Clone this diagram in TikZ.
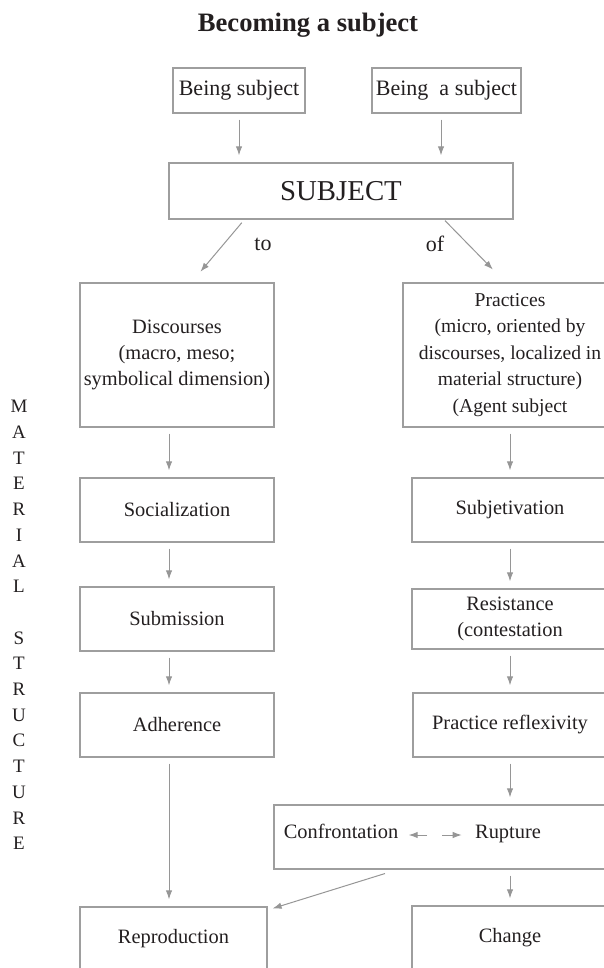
\documentclass[tikz,border=0pt]{standalone}
\usepackage{fontspec}
\setmainfont{Liberation Serif}
\usetikzlibrary{arrows.meta,positioning}
\definecolor{boxGray}{RGB}{158,158,158}
\definecolor{arrowGray}{RGB}{150,150,150}
\definecolor{inkDark}{RGB}{35,31,32}
\newcommand\boxfont{\fontsize{10.2}{13}\selectfont}
\tikzset{
  stageBox/.style={draw=boxGray,line width=0.6pt,inner sep=0pt,text=inkDark,font=\boxfont,align=center,minimum height=32pt},
  flowArrow/.style={-{Latex[length=4.5pt,width=3.2pt]},draw=arrowGray,line width=0.5pt,shorten <=3pt,shorten >=3.5pt},
  plainText/.style={inner sep=0pt,text=inkDark,font=\boxfont,anchor=base}
}

\begin{document}
\begin{tikzpicture}[x=0.5pt,y=-0.5pt]
  \useasboundingbox (0,0) rectangle (604,968);
  \clip (0,0) rectangle (604,968);
  \node[plainText,font=\fontsize{13.3}{16}\selectfont\bfseries] (title) at (308,32) {Becoming a subject};
  \node[stageBox,font=\fontsize{11}{13}\selectfont,minimum width=66pt,minimum height=22.5pt] (beingS) at (239,90.5) {Being subject};
  \node[stageBox,font=\fontsize{11}{13}\selectfont,minimum width=74.5pt,minimum height=22.5pt] (beingA) at (446.5,90.5) {Being\ \ a subject};
  \node[stageBox,font=\fontsize{14.4}{16}\selectfont,minimum width=172pt,minimum height=28pt] (subj) at (341,191) {SUBJECT};
  \node[stageBox,minimum width=97pt,minimum height=72pt] (disc) at (177,355) {Discourses\\(macro, meso;\\symbolical dimension)};
  \node[stageBox,font=\fontsize{9.8}{13.2}\selectfont,minimum width=107pt,minimum height=72pt] (prac) at (510,355) {Practices\\(micro, oriented by\\discourses, localized in\\material structure)\\(Agent subject};
  \node[stageBox,minimum width=97pt] (soc) at (177,510) {Socialization};
  \node[stageBox,minimum width=97pt] (subm) at (177,619) {Submission};
  \node[stageBox,minimum width=97pt] (adh) at (177,725) {Adherence};
  \node[stageBox,minimum width=93.5pt] (repro) at (173.5,939) {Reproduction};
  \node[stageBox,minimum width=98pt] (subjv) at (510,510) {Subjetivation};
  \node[stageBox,minimum width=98pt,minimum height=30pt] (resist) at (510,619) {Resistance\\(contestation};
  \node[stageBox,minimum width=97pt] (reflex) at (510,725) {Practice reflexivity};
  \node[stageBox,minimum width=173pt] (confr) at (447,837) {};
  \node[stageBox,minimum width=98pt] (change) at (510,938) {Change};
  \node[plainText] (confront) at (341,838) {Confrontation};
  \node[plainText] (rupture) at (508,838) {Rupture};
  \coordinate (mid) at (434.5,835);
  \node[plainText,font=\fontsize{11}{13}\selectfont] (toLbl) at (263,250) {to};
  \node[plainText,font=\fontsize{11}{13}\selectfont] (ofLbl) at (435,251) {of};
  \node[plainText,anchor=north,align=center,font=\fontsize{9.5}{12.85}\selectfont] (material) at (19,400)
    {M\\A\\T\\E\\R\\I\\A\\L\\[12.85pt]S\\T\\R\\U\\C\\T\\U\\R\\E};

  \draw[flowArrow] (beingS.south) -- (beingS.south |- subj.north);
  \draw[flowArrow] ([xshift=-2.75pt]beingA.south) -- ([xshift=50pt]subj.north);
  \draw[flowArrow,shorten <=2pt,shorten >=7pt] ([xshift=-48.3pt]subj.south) -- ([xshift=7.2pt]disc.north);
  \draw[flowArrow,shorten <=0.7pt,shorten >=9pt] ([xshift=51.5pt]subj.south) -- ([xshift=-2.25pt]prac.north);
  \foreach \a/\b/\dx in {disc/soc/-4pt,soc/subm/-4pt,subm/adh/-4pt,adh/repro/-2.25pt}
    \draw[flowArrow] ([xshift=-4pt]\a.south) -- ([xshift=\dx]\b.north);
  \foreach \a/\b in {prac/subjv,subjv/resist,resist/reflex,reflex/confr}
    \draw[flowArrow] (\a.south) -- (\a.south |- \b.north);
  \draw[flowArrow] (confr.south -| change.north) -- (change.north);
  \draw[flowArrow,shorten <=6.6pt,shorten >=2.6pt] ([xshift=-24.7pt]confr.south) -- ([yshift=-1.8pt]repro.north east);
  \draw[flowArrow,shorten <=3.75pt,shorten >=5pt] (mid) -- (mid -| confront.east);
  \draw[flowArrow,shorten <=3.75pt,shorten >=6.5pt] (mid) -- (mid -| rupture.west);
\end{tikzpicture}
\end{document}
